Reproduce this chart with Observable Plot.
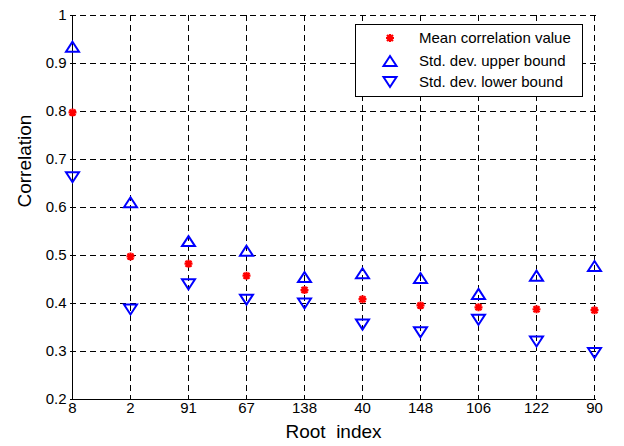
<!DOCTYPE html>
<html>
<head>
<meta charset="utf-8">
<script src="https://cdn.jsdelivr.net/npm/d3@7"></script>
<script src="https://cdn.jsdelivr.net/npm/@observablehq/plot@0.6"></script>
<style>
  html, body { margin: 0; padding: 0; background: white; }
  #wrap { position: relative; width: 624px; height: 446px; }
  svg text { white-space: pre; }
  #legend { position: absolute; left: 355px; top: 24px; }
</style>
</head>
<body>
<div id="wrap"></div>
<script>
const roots = ["8", "2", "91", "67", "138", "40", "148", "106", "122", "90"];
const meanCorr = [0.798, 0.498, 0.483, 0.458, 0.428, 0.409, 0.396, 0.392, 0.388, 0.386];
const upperBound = [0.935, 0.611, 0.530, 0.510, 0.455, 0.463, 0.453, 0.420, 0.458, 0.478];
const lowerBound = [0.663, 0.3875, 0.440, 0.408, 0.400, 0.356, 0.340, 0.366, 0.321, 0.297];
const yTicks = [0.2, 0.3, 0.4, 0.5, 0.6, 0.7, 0.8, 0.9, 1];
const legendLabels = ["Mean correlation value", "Std. dev. upper bound", "Std. dev. lower bound"];

const rows = roots.map((r, i) => ({root: r, mean: meanCorr[i], upper: upperBound[i], lower: lowerBound[i]}));

const upTri = {draw(ctx) { const w = 6.5, h = 5; ctx.moveTo(0, -h); ctx.lineTo(w, h); ctx.lineTo(-w, h); ctx.closePath(); }};
const downTri = {draw(ctx) { const w = 6.5, h = 5; ctx.moveTo(0, h); ctx.lineTo(w, -h); ctx.lineTo(-w, -h); ctx.closePath(); }};
const star = {draw(ctx) { const a = 4, b = 3; ctx.moveTo(-a, 0); ctx.lineTo(a, 0); ctx.moveTo(0, -a); ctx.lineTo(0, a);
  ctx.moveTo(-b, -b); ctx.lineTo(b, b); ctx.moveTo(-b, b); ctx.lineTo(b, -b); }};

const font = "'Liberation Sans', Arial, Helvetica, sans-serif";
const dash = {stroke: "black", strokeOpacity: 1, strokeWidth: 1, strokeDasharray: "6,4"};

const chart = Plot.plot({
  width: 624,
  height: 446,
  marginLeft: 70,
  marginRight: 28,
  marginTop: 15,
  marginBottom: 47,
  style: {fontFamily: font, fontSize: "15px", color: "black", background: "white", overflow: "visible"},
  x: {type: "point", domain: roots, padding: 0},
  y: {domain: [0.2, 1]},
  marks: [
    Plot.gridY(yTicks, dash),
    Plot.gridX(roots, dash),
    Plot.ruleX([roots[0]], {stroke: "black", strokeWidth: 1}),
    Plot.ruleY([0.2], {stroke: "black", strokeWidth: 1}),
    Plot.axisY(yTicks, {tickSize: 0, tickPadding: 4, tickFormat: d => String(d), label: null, fontSize: 15}),
    Plot.axisX(roots, {tickSize: 0, tickPadding: 3, label: null, fontSize: 15}),
    Plot.text(["Correlation"], {frameAnchor: "left", dx: -46, rotate: -90, fontSize: 19, fill: "black"}),
    Plot.text(["Root  index"], {frameAnchor: "bottom", dy: 38, fontSize: 19, fill: "black"}),
    Plot.dot(rows, {x: "root", y: "upper", symbol: upTri, stroke: "#0000ff", strokeWidth: 2, fill: "none"}),
    Plot.dot(rows, {x: "root", y: "lower", symbol: downTri, stroke: "#0000ff", strokeWidth: 2, fill: "none"}),
    Plot.dot(rows, {x: "root", y: "mean", symbol: star, stroke: "#ff0000", strokeWidth: 2.2, fill: "none"})
  ]
});

const wrap = document.getElementById("wrap");
wrap.appendChild(chart);

// Legend (inside the axes, like the original)
const lw = 228, lh = 73;
const lg = d3.create("svg").attr("id", "legend").attr("width", lw).attr("height", lh)
  .style("font-family", font).style("font-size", "15px");
lg.append("rect").attr("x", 0.5).attr("y", 0.5).attr("width", lw - 1).attr("height", lh - 1)
  .attr("fill", "white").attr("stroke", "black").attr("stroke-width", 1);
const symbols = [
  {sym: star, color: "#ff0000", sw: 2.2},
  {sym: upTri, color: "#0000ff", sw: 2},
  {sym: downTri, color: "#0000ff", sw: 2}
];
const rowY = [14, 37, 58];
legendLabels.forEach((lab, i) => {
  const g = lg.append("g").attr("transform", `translate(35,${rowY[i]})`);
  g.append("path").attr("d", d3.symbol(symbols[i].sym)()).attr("fill", "none")
    .attr("stroke", symbols[i].color).attr("stroke-width", symbols[i].sw);
  lg.append("text").attr("x", 64).attr("y", rowY[i]).attr("dy", "0.35em").attr("fill", "black").text(lab);
});
wrap.appendChild(lg.node());
</script>
</body>
</html>
